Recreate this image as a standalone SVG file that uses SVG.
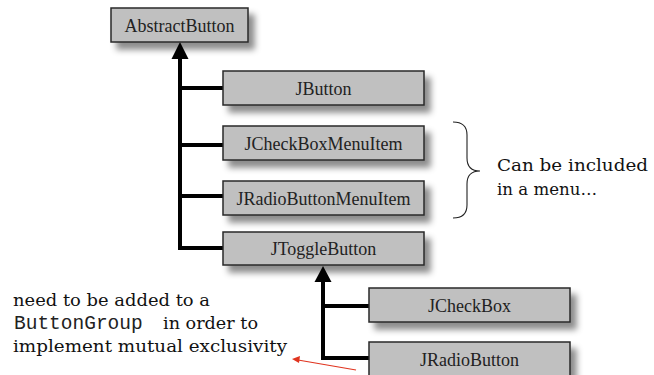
<svg xmlns="http://www.w3.org/2000/svg" width="654" height="375" viewBox="0 0 654 375">
  <defs>
    <filter id="shadow" x="-10%" y="-30%" width="130%" height="190%">
      <feDropShadow dx="6" dy="7" stdDeviation="3" flood-color="#000" flood-opacity="0.45"/>
    </filter>
  </defs>
  <style>
    .box { fill: #c0c0c0; stroke: #2a2a2a; stroke-width: 1.5; filter: url(#shadow); }
    .lbl { font-family: "Liberation Serif", "Times New Roman", serif; font-size: 18px; fill: #222; text-anchor: middle; }
    .note { font-family: "DejaVu Serif", "Liberation Serif", serif; font-size: 16.5px; fill: #111; }
    .mono { font-family: "Liberation Mono", "Courier New", monospace; font-size: 19.5px; fill: #222; }
    .conn { stroke: #000; stroke-width: 4; fill: none; }
  </style>
  <rect width="654" height="375" fill="#fff"/>

  <g id="connectors">
    <path class="conn" d="M180,56 V248 H223 M180,88 H223 M180,145 H223 M180,196 H223"/>
    <polygon points="180,42 171.5,59 188.5,59" fill="#000"/>
    <path class="conn" d="M323,279 V358 H369 M323,306 H369"/>
    <polygon points="323,266 314.5,282 331.5,282" fill="#000"/>
    <line x1="356" y1="370" x2="298" y2="360" stroke="#e0341f" stroke-width="1.2"/>
    <polygon points="292,359 300,356 299,363" fill="#e0341f"/>
  </g>

  <g id="AbstractButton">
    <rect class="box" x="111" y="8" width="137" height="34"/>
    <text class="lbl" x="179.5" y="31.5">AbstractButton</text>
  </g>
  <g id="JButton">
    <rect class="box" x="223" y="71" width="201" height="34"/>
    <text class="lbl" x="323.5" y="94.5">JButton</text>
  </g>
  <g id="JCheckBoxMenuItem">
    <rect class="box" x="223" y="126" width="201" height="34"/>
    <text class="lbl" x="323.5" y="149.5">JCheckBoxMenuItem</text>
  </g>
  <g id="JRadioButtonMenuItem">
    <rect class="box" x="223" y="181" width="201" height="34"/>
    <text class="lbl" x="323.5" y="204.5">JRadioButtonMenuItem</text>
  </g>
  <g id="JToggleButton">
    <rect class="box" x="223" y="232" width="201" height="33"/>
    <text class="lbl" x="323.5" y="255">JToggleButton</text>
  </g>
  <g id="JCheckBox">
    <rect class="box" x="369" y="288" width="201" height="34"/>
    <text class="lbl" x="469.5" y="311.5">JCheckBox</text>
  </g>
  <g id="JRadioButton">
    <rect class="box" x="369" y="342" width="201" height="34"/>
    <text class="lbl" x="469.5" y="365.5">JRadioButton</text>
  </g>

  <g id="menu-note">
    <path d="M453,122 Q467,122 467,135 V158 Q467,171 480,171 Q467,171 467,184 V205 Q467,218 453,218" fill="none" stroke="#222" stroke-width="1.1"/>
    <text class="note" x="497" y="171" textLength="151" lengthAdjust="spacingAndGlyphs">Can be included</text>
    <text class="note" x="497" y="195" textLength="100" lengthAdjust="spacingAndGlyphs">in a menu…</text>
  </g>

  <g id="group-note">
    <text class="note" x="13" y="306" textLength="197" lengthAdjust="spacingAndGlyphs">need to be added to a</text>
    <text class="mono" x="14" y="329">ButtonGroup</text>
    <text class="note" x="163" y="329" textLength="95" lengthAdjust="spacingAndGlyphs">in order to</text>
    <text class="note" x="13" y="352" textLength="274" lengthAdjust="spacingAndGlyphs">implement mutual exclusivity</text>
  </g>
</svg>
